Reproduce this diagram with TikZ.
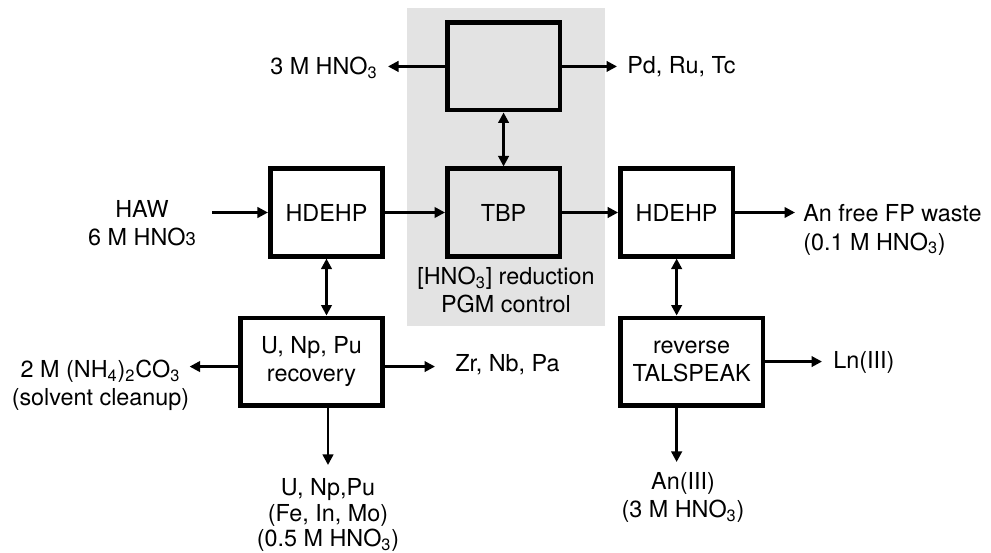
\documentclass[tikz,border=0pt]{standalone}
\usepackage{fontspec}
\setmainfont{TeX Gyre Heros}
\usepackage{tikz}
\usetikzlibrary{arrows.meta, positioning, fit, backgrounds}
\definecolor{zone}{RGB}{227,227,227}

\begin{document}
\begin{tikzpicture}[
  font=\fontsize{13.3}{16}\selectfont,
  unit/.style={rectangle, draw, line width=2.6pt, minimum width=2.25cm, minimum height=1.75cm, text centered, align=center},
  wideunit/.style={unit, minimum width=2.85cm},
  lbl/.style={inner sep=0pt, align=center},
  arrow/.style={-{Triangle[length=2.1mm, width=2.1mm]}, line width=1.4pt},
  doublearrow/.style={{Triangle[length=2.1mm, width=2.1mm]}-{Triangle[length=2.1mm, width=2.1mm]}, line width=1.4pt},
]
\useasboundingbox (0,0) rectangle (19.82,-11.06);

% Main line
\node[unit] (hdehpL) at (6.53,-4.25) {HDEHP};
\node[unit, right=1.2cm of hdehpL] (tbp) {TBP};
\node[unit, right=1.12cm of tbp] (hdehpR) {HDEHP};
\node[unit, above=1.08cm of tbp] (pgmbox) {};

% Lower units
\node[wideunit, below left=1.14cm and 0cm of hdehpL.south east] (recov) {U, Np, Pu\\recovery};
\node[wideunit, below right=1.14cm and 0cm of hdehpR.south west] (talspeak) {reverse\\TALSPEAK};

% Streams
\node[lbl, anchor=north] (haw) at (2.84,-4.0) {HAW\\6 M HNO{\fontsize{10.5}{12}\selectfont 3}};
\node[lbl, anchor=east] (acidtop) at (7.56,-1.36) {3 M HNO\textsubscript{3}};
\node[lbl, anchor=west] (pgmout) at (12.54,-1.34) {Pd, Ru, Tc};
\node[lbl, anchor=north] (tbpnote) at (10.12,-5.34) {[HNO\textsubscript{3}] reduction\\PGM control};
\node[lbl, align=left, anchor=north west] (fpwaste) at (16.06,-4.09) {An free FP waste\\(0.1 M HNO\textsubscript{3})};
\node[lbl, anchor=north] (clean) at (2.01,-7.19) {2 M (NH\textsubscript{4})\textsubscript{2}CO\textsubscript{3}\\(solvent cleanup)};
\node[lbl, anchor=west] (zr) at (9.1,-7.3) {Zr, Nb, Pa};
\node[lbl, anchor=north, font=\fontsize{13.3}{14.6}\selectfont] (uranium) at (6.56,-9.56) {U, Np,Pu\\(Fe, In, Mo)\\(0.5 M HNO\textsubscript{3})};
\node[lbl, anchor=west] (lniii) at (16.66,-7.24) {Ln(III)};
\node[lbl, anchor=north] (aniii) at (13.66,-9.44) {An(III)\\(3 M HNO\textsubscript{3})};

% PGM zone
\begin{scope}[on background layer]
\node[fill=zone, fit=(pgmbox)(tbpnote), inner xsep=0.2cm, inner ysep=0.25cm] (pgmzone) {};
\end{scope}

% Arrows
\draw[arrow, shorten <=0.32cm] (haw.east |- hdehpL.west) -- (hdehpL.west);
\draw[arrow] (hdehpL) -- (tbp);
\draw[arrow] (tbp) -- (hdehpR);
\draw[arrow, shorten >=0.16cm] (hdehpR.east) -- (hdehpR.east -| fpwaste.west);
\draw[doublearrow] (pgmbox) -- (tbp);
\draw[arrow, shorten >=0.2cm] (pgmbox.west) -- (pgmbox.west -| acidtop.east);
\draw[arrow, shorten >=0.2cm] (pgmbox.east) -- (pgmbox.east -| pgmout.west);
\draw[doublearrow] (hdehpL.south) -- (hdehpL.south |- recov.north);
\draw[doublearrow] (hdehpR.south) -- (hdehpR.south |- talspeak.north);
\draw[arrow] ([yshift=-0.1cm]recov.west) -- ([yshift=-0.1cm]recov.west -| clean.east);
\draw[arrow, shorten >=0.4cm] ([yshift=-0.1cm]recov.east) -- ([yshift=-0.1cm]recov.east -| zr.west);
\draw[arrow, shorten >=0.26cm] (uranium.north |- recov.south) -- (uranium.north);
\draw[arrow, shorten >=0.22cm] (talspeak.east) -- (talspeak.east -| lniii.west);
\draw[arrow, shorten >=0.2cm] (hdehpR.south |- talspeak.south) -- (hdehpR.south |- aniii.north);

\end{tikzpicture}
\end{document}
